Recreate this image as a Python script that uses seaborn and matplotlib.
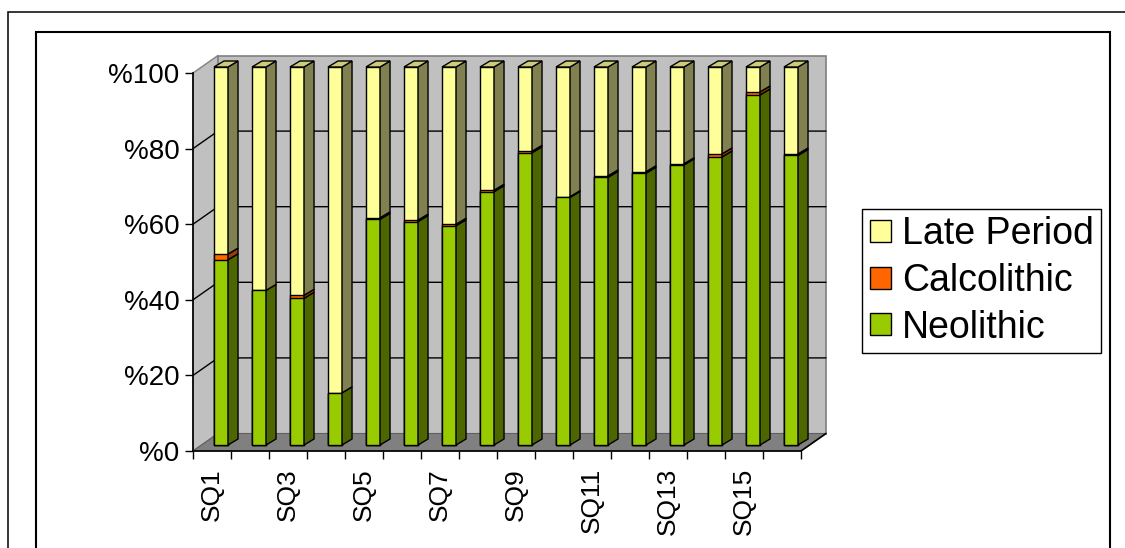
import numpy as np
import matplotlib
matplotlib.use("Agg")
import matplotlib.pyplot as plt
import matplotlib.transforms as mtransforms
import seaborn as sns
from matplotlib.patches import Polygon, Rectangle, Patch

# squares on the x axis
squares = ["SQ%d" % i for i in range(1, 17)]
# percent share of each period per square
neolithic = [49.0, 40.9, 38.8, 13.8, 59.7, 59.1, 58.0, 67.0,
             77.3, 65.5, 70.8, 71.9, 74.1, 76.2, 92.6, 76.6]
calcolithic = [1.5, 0.0, 0.8, 0.0, 0.4, 0.4, 0.4, 0.4,
               0.4, 0.2, 0.4, 0.4, 0.3, 0.8, 0.8, 0.4]
late_period = [100 - n - c for n, c in zip(neolithic, calcolithic)]
series_names = ["Late Period", "Calcolithic", "Neolithic"]
y_ticks = [0, 20, 40, 60, 80, 100]
y_tick_labels = ["%" + str(v) for v in y_ticks]

# colours: front face, side face
c_neo, c_neo_side = "#99CC00", "#4D6600"
c_cal, c_cal_side = "#FF6600", "#993D00"
c_late, c_late_side, c_late_top = "#FFFF99", "#808050", "#CCCC7A"

sns.set_style("white")
plt.rcParams["font.family"] = ["Liberation Sans", "DejaVu Sans"]
plt.rcParams["text.color"] = "black"
plt.rcParams["xtick.color"] = "black"
plt.rcParams["ytick.color"] = "black"

W, H = 1125, 548
fig = plt.figure(figsize=(W / 100, H / 100), dpi=100)
# front plane of the 3d box, in pixels: x 193..801, y 73..451
ax = fig.add_axes([193 / W, (H - 451) / H, 608 / W, 378 / H])
ax.set_facecolor("none")

n = len(squares)
ux = 608 / n      # px per category
uy = 378 / 100    # px per percent
WX, WY = 25 / ux, 17.5 / uy   # wall depth
FX, FY = 9 / ux, 6 / uy       # bar front plane offset
BX, BY = 10 / ux, 6 / uy      # bar depth
bw = 0.37

x0, x1 = -0.5, n - 0.5
# walls and floor
ax.add_patch(Polygon([(x0, 0), (x0, 100), (x0 + WX, 100 + WY), (x0 + WX, WY)],
                     closed=True, fc="#C0C0C0", ec="#808080", lw=1, zorder=0.5, clip_on=False))
ax.add_patch(Rectangle((x0 + WX, WY), n, 100, fc="#C0C0C0", ec="#808080",
                       lw=1.2, zorder=0.5, clip_on=False))
ax.add_patch(Polygon([(x0, 0), (x1, 0), (x1 + WX, WY), (x0 + WX, WY)],
                     closed=True, fc="#808080", ec="#606060", lw=0.8, zorder=0.6, clip_on=False))
ax.plot([x1, x1 + WX], [0, WY], color="black", lw=1.2, zorder=0.7, clip_on=False)
for v in y_ticks[1:-1]:
    ax.plot([x0, x0 + WX, x1 + WX], [v, v + WY, v + WY], color="black", lw=1,
            zorder=0.8, clip_on=False)

# stacked front faces, drawn as layered cumulative bars
cum_cal = [a + b for a, b in zip(neolithic, calcolithic)]
cum_late = [a + b for a, b in zip(cum_cal, late_period)]
for vals, col in [(cum_late, c_late), (cum_cal, c_cal), (neolithic, c_neo)]:
    sns.barplot(x=squares, y=vals, color=col, saturation=1, width=bw,
                edgecolor="black", linewidth=1.0, zorder=3, ax=ax)
for p in ax.patches:
    if isinstance(p, Rectangle) and p.get_zorder() == 3:
        p.set_x(p.get_x() + FX)
        p.set_y(p.get_y() + FY)
        p.set_clip_on(False)

# side and top faces
for i in range(n):
    xr = i + bw / 2 + FX
    xl = i - bw / 2 + FX
    segs = [(0, neolithic[i], c_neo_side), (neolithic[i], cum_cal[i], c_cal_side),
            (cum_cal[i], cum_late[i], c_late_side)]
    for y0, y1, col in segs:
        if y1 - y0 <= 0:
            continue
        ax.add_patch(Polygon([(xr, y0 + FY), (xr + BX, y0 + FY + BY),
                              (xr + BX, y1 + FY + BY), (xr, y1 + FY)],
                             closed=True, fc=col, ec="black", lw=1.0, zorder=3, clip_on=False))
    top = cum_late[i] + FY
    ax.add_patch(Polygon([(xl, top), (xr, top), (xr + BX, top + BY), (xl + BX, top + BY)],
                         closed=True, fc=c_late_top, ec="black", lw=1.0, zorder=3, clip_on=False))

ax.set_xlim(x0, x1)
ax.set_ylim(0, 100)
sns.despine(ax=ax, top=True, right=True)
for s in ["left", "bottom"]:
    ax.spines[s].set_color("black")
    ax.spines[s].set_linewidth(1.2)
    ax.spines[s].set_zorder(4)

ax.set_yticks(y_ticks)
ax.set_yticklabels(y_tick_labels)
ax.tick_params(axis="y", direction="out", length=5.8, width=1, pad=4, left=True,
               labelsize=20, labelcolor="black")

# ticks at category boundaries, every second square labelled below
ax.set_xticks(np.arange(x0, x1 + 0.01, 1))
ax.set_xticklabels([])
ax.tick_params(axis="x", which="major", direction="out", length=5.8, width=1, bottom=True)
lab_tr = mtransforms.blended_transform_factory(ax.transData, ax.transAxes) + \
    mtransforms.Affine2D().translate(0, -17)
for i in range(0, n, 2):
    ax.text(i, 0, squares[i], transform=lab_tr, rotation=90, ha="center", va="top",
            fontsize=19, color="black")
ax.set_xlabel("")
ax.set_ylabel("")

handles = [Patch(fc=c_late, ec="black", lw=1), Patch(fc=c_cal, ec="black", lw=1),
           Patch(fc=c_neo, ec="black", lw=1)]
leg = ax.legend(handles, series_names, loc="center left",
                bbox_to_anchor=(862 / W, 1 - 281 / H), bbox_transform=fig.transFigure,
                fontsize=27, frameon=True, fancybox=False, edgecolor="black",
                framealpha=1, borderpad=0.2, labelspacing=0.28, handlelength=0.56,
                handleheight=0.54, handletextpad=0.3, borderaxespad=0)
leg.get_frame().set_linewidth(1)
for t in leg.get_texts():
    t.set_color("black")

# chart frames
fig.add_artist(Rectangle((7.5 / W, -0.1), 1.2, 0.1 + 1 - 12 / H, transform=fig.transFigure,
                         fill=False, ec="black", lw=1.1))
fig.add_artist(Rectangle((36 / W, -0.1), (1110 - 36) / W, 0.1 + 1 - 32 / H,
                         transform=fig.transFigure, fill=False, ec="black", lw=1.5))

fig.savefig("out.png", dpi=100)
